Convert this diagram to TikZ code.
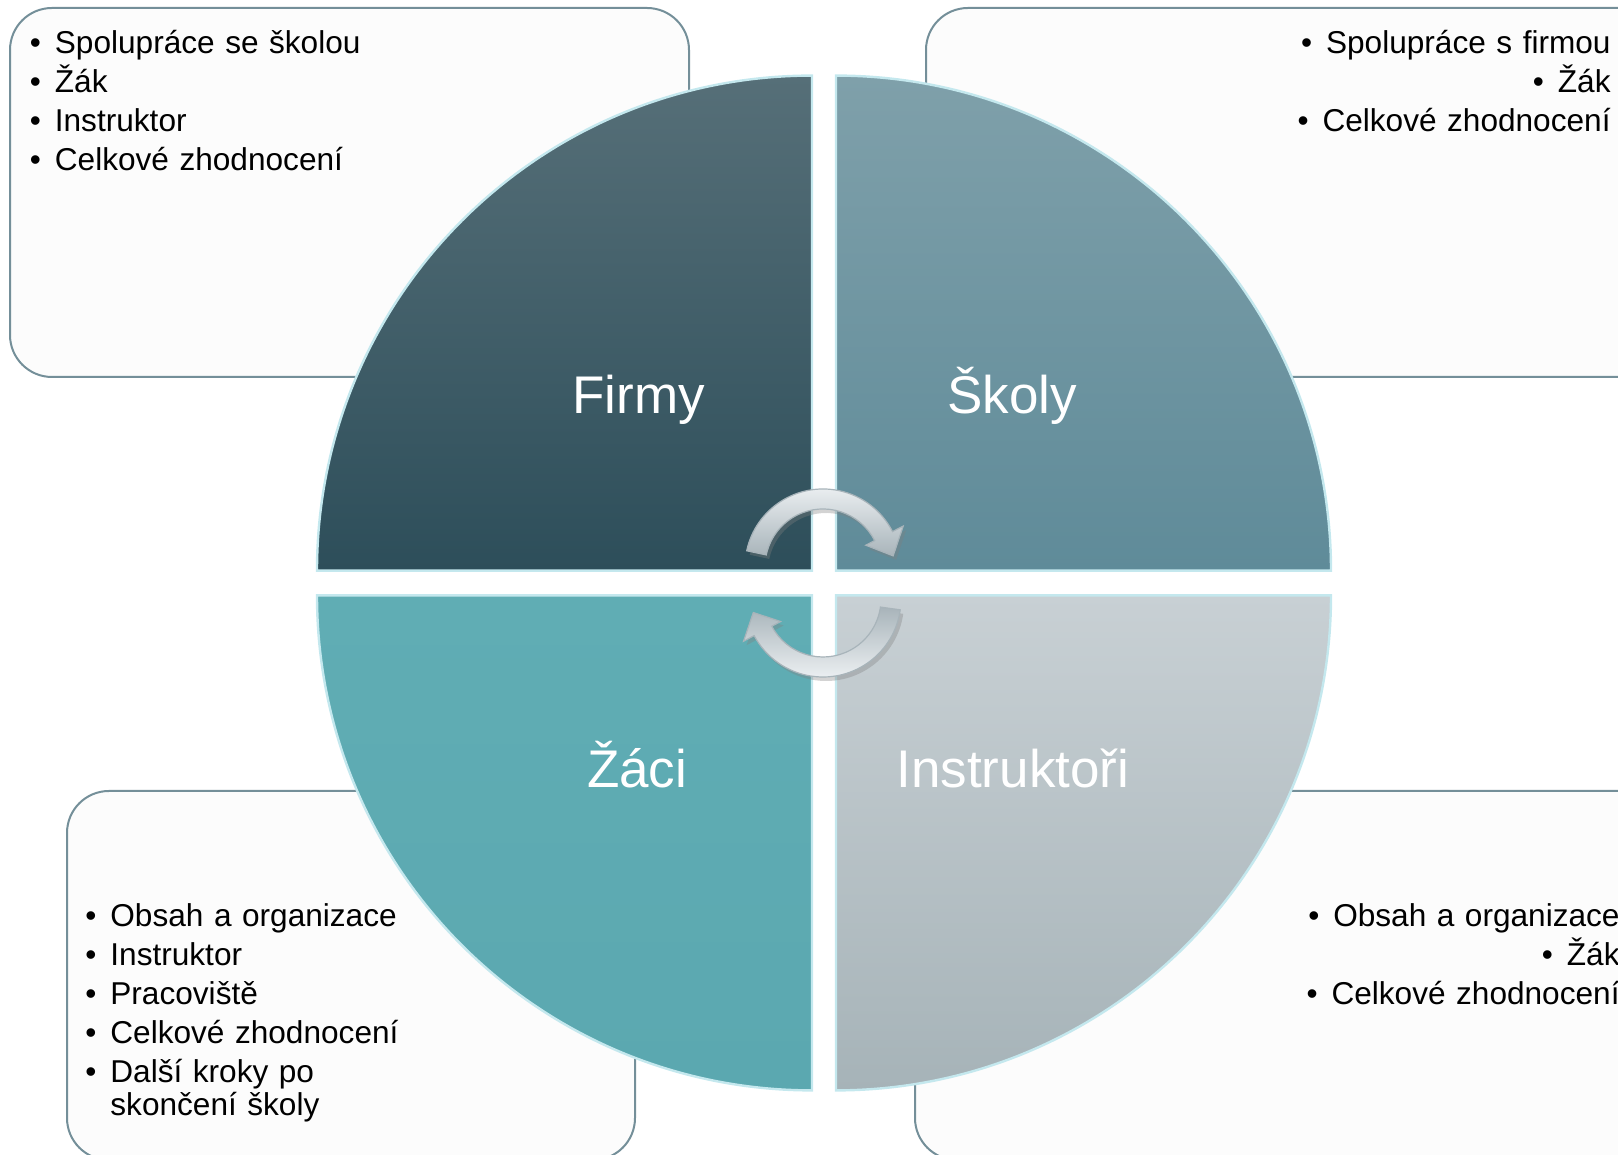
\documentclass[tikz,border=0pt]{standalone}
\usepackage{fontspec}
\setmainfont{Liberation Sans}
\usetikzlibrary{shadows}

\definecolor{boxline}{RGB}{116,143,153}
\definecolor{boxfill}{RGB}{252,252,252}
\definecolor{rim}{RGB}{196,232,238}
\definecolor{firmytop}{RGB}{86,111,120}
\definecolor{firmybot}{RGB}{45,78,90}
\definecolor{skolytop}{RGB}{127,160,170}
\definecolor{skolybot}{RGB}{95,139,153}
\definecolor{zacitop}{RGB}{96,173,180}
\definecolor{zacibot}{RGB}{91,168,176}
\definecolor{instrtop}{RGB}{200,208,212}
\definecolor{instrbot}{RGB}{166,179,184}
\definecolor{arrowhi}{RGB}{240,243,245}
\definecolor{arrowlo}{RGB}{168,180,186}

\newcommand{\itm}{\makebox[12.5pt][l]{\textbullet}}

\begin{document}
\begin{tikzpicture}[x=0.5pt, y=0.5pt,
    listbox/.style={draw=boxline, line width=1pt, fill=boxfill, rounded corners=21pt},
    quarter/.style={draw=rim, line width=1.2pt},
    pointlist/.style={inner sep=0pt, text width=300pt,
      font={\fontsize{15.8}{16.5}\selectfont\lineskiplimit=-6pt}},
    quadname/.style={text=white, inner sep=0pt, text height=19pt, text depth=5.5pt,
      font=\fontsize{26.5}{30}\selectfont},
    cyclearrow/.style={draw=arrowlo, line width=0.6pt,
      drop shadow={opacity=0.35, shadow xshift=1.5pt, shadow yshift=-2pt}}]
  \useasboundingbox (0,0) rectangle (1618,1155);
  \clip (0,0) rectangle (1618,1155);

  \draw[listbox] (10,778) rectangle (689,1147);
  \draw[listbox] (926,778) rectangle (1660,1147);
  \draw[listbox] (67,-5) rectangle (635,364);
  \draw[listbox] (915,-5) rectangle (1660,364);

  \draw[quarter, top color=firmytop, bottom color=firmybot]
    (812,584.4) -- ++(-495,0) arc[start angle=180, end angle=90, radius=495] -- cycle;
  \draw[quarter, top color=skolytop, bottom color=skolybot]
    (836,584.4) -- ++(0,495) arc[start angle=90, end angle=0, radius=495] -- cycle;
  \draw[quarter, top color=zacitop, bottom color=zacibot]
    (812,559.6) -- ++(-495,0) arc[start angle=180, end angle=270, radius=495] -- cycle;
  \draw[quarter, top color=instrtop, bottom color=instrbot]
    (836,559.6) -- ++(495,0) arc[start angle=0, end angle=-90, radius=495] -- cycle;

  \node[quadname] (firmy) at (638.7,754.5) {Firmy};
  \node[quadname] (skoly) at (1012.3,754.5) {Školy};
  \node[quadname] (zaci) at (637.2,381) {Žáci};
  \node[quadname] (instr) at (1012.8,381) {Instruktoři};

  \node[pointlist, anchor=base west, align=left] (listfirmy) at (29.5,1101.3)
    {\itm Spolupráce se školou\\[2.95pt]\itm Žák\\[2.95pt]\itm Instruktor\\[2.95pt]\itm Celkové zhodnocení};
  \node[pointlist, anchor=base east, align=right] (listskoly) at (1611,1101.3)
    {\itm Spolupráce s firmou\\[2.95pt]\itm Žák\\[2.95pt]\itm Celkové zhodnocení};
  \node[pointlist, anchor=base west, align=left] (listzaci) at (85,228.4)
    {\itm Obsah a organizace\\[2.95pt]\itm Instruktor\\[2.95pt]\itm Pracoviště\\[2.95pt]\itm Celkové zhodnocení\\[2.95pt]\itm Další kroky po\\\hspace*{12.5pt}skončení školy};
  \node[pointlist, anchor=base east, align=right] (listinstr) at (1620,228.4)
    {\itm Obsah a organizace\\[2.95pt]\itm Žák\\[2.95pt]\itm Celkové zhodnocení};

  \begin{scope}[shift={(823,588)}]
    \draw[cyclearrow, top color=arrowhi, bottom color=arrowlo]
      (168:78) arc[start angle=168, end angle=27, radius=78] -- (27:90) -- (9:71)
      -- (27:48) -- (27:58) arc[start angle=27, end angle=168, radius=58] -- cycle;
  \end{scope}
  \begin{scope}[shift={(823,556)}]
    \draw[cyclearrow, top color=arrowlo, bottom color=arrowhi]
      (-8:78) arc[start angle=-8, end angle=-152, radius=78] -- (-152:90) -- (-169:71)
      -- (-152:48) -- (-152:58) arc[start angle=-152, end angle=-8, radius=58] -- cycle;
  \end{scope}
\end{tikzpicture}
\end{document}
